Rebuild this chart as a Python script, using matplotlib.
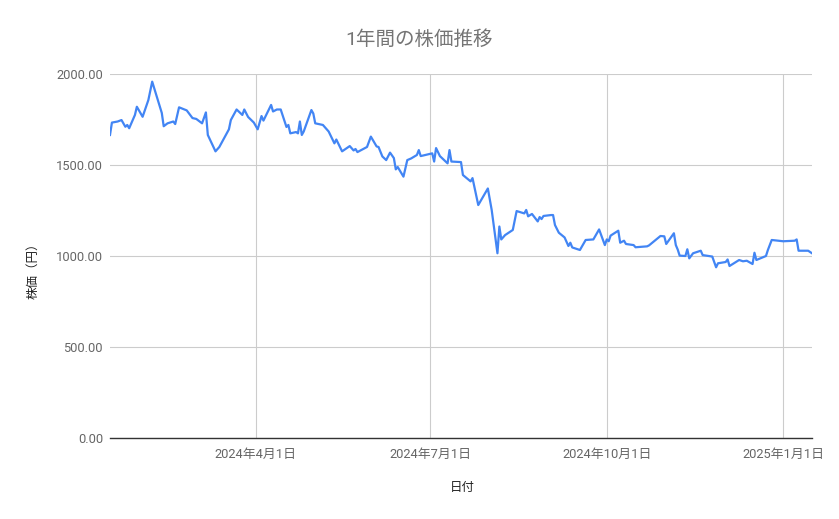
import matplotlib
matplotlib.use("Agg")
import matplotlib.pyplot as plt
import matplotlib.dates as mdates
import pandas as pd
from matplotlib.ticker import FuncFormatter, FixedLocator

plt.rcParams['font.family'] = ['Roboto', 'Noto Sans CJK JP', 'DejaVu Sans']

title = "1年間の株価推移"
x_label = "日付"
y_label = "株価（円）"

dates = [
    "2024-01-16", "2024-01-17", "2024-01-20", "2024-01-22", "2024-01-24", "2024-01-25",
    "2024-01-26", "2024-01-29", "2024-01-30", "2024-02-02", "2024-02-05", "2024-02-07",
    "2024-02-12", "2024-02-13", "2024-02-15", "2024-02-18", "2024-02-19", "2024-02-21",
    "2024-02-25", "2024-02-28", "2024-03-01", "2024-03-04", "2024-03-06", "2024-03-07",
    "2024-03-11", "2024-03-13", "2024-03-18", "2024-03-19", "2024-03-22", "2024-03-25",
    "2024-03-26", "2024-03-28", "2024-03-31", "2024-04-02", "2024-04-04", "2024-04-05",
    "2024-04-09", "2024-04-10", "2024-04-12", "2024-04-14", "2024-04-17", "2024-04-18",
    "2024-04-19", "2024-04-22", "2024-04-23", "2024-04-24", "2024-04-25", "2024-04-26",
    "2024-04-30", "2024-05-01", "2024-05-02", "2024-05-06", "2024-05-08", "2024-05-09",
    "2024-05-12", "2024-05-13", "2024-05-16", "2024-05-20", "2024-05-22", "2024-05-23",
    "2024-05-24", "2024-05-29", "2024-05-31", "2024-06-03", "2024-06-04", "2024-06-06",
    "2024-06-08", "2024-06-10", "2024-06-12", "2024-06-13", "2024-06-14", "2024-06-17",
    "2024-06-19", "2024-06-21", "2024-06-24", "2024-06-25", "2024-06-26", "2024-07-02",
    "2024-07-03", "2024-07-04", "2024-07-06", "2024-07-10", "2024-07-11", "2024-07-12",
    "2024-07-17", "2024-07-18", "2024-07-22", "2024-07-23", "2024-07-26", "2024-07-31",
    "2024-08-02", "2024-08-05", "2024-08-06", "2024-08-07", "2024-08-09", "2024-08-13",
    "2024-08-15", "2024-08-19", "2024-08-20", "2024-08-21", "2024-08-23", "2024-08-26",
    "2024-08-27", "2024-08-28", "2024-08-29", "2024-09-02", "2024-09-03", "2024-09-04",
    "2024-09-06", "2024-09-09", "2024-09-11", "2024-09-12", "2024-09-13", "2024-09-17",
    "2024-09-19", "2024-09-20", "2024-09-24", "2024-09-27", "2024-09-30", "2024-10-01",
    "2024-10-02", "2024-10-03", "2024-10-07", "2024-10-08", "2024-10-10", "2024-10-11",
    "2024-10-15", "2024-10-16", "2024-10-22", "2024-10-23", "2024-10-29", "2024-10-31",
    "2024-11-01", "2024-11-05", "2024-11-06", "2024-11-07", "2024-11-08", "2024-11-11",
    "2024-11-12", "2024-11-13", "2024-11-15", "2024-11-19", "2024-11-20", "2024-11-25",
    "2024-11-27", "2024-11-28", "2024-12-02", "2024-12-03", "2024-12-04", "2024-12-09",
    "2024-12-11", "2024-12-13", "2024-12-16", "2024-12-17", "2024-12-18", "2024-12-23",
    "2024-12-24", "2024-12-26", "2025-01-01", "2025-01-07", "2025-01-08", "2025-01-09",
    "2025-01-14", "2025-01-16",
]

prices = [
    1665, 1733, 1739, 1747, 1710, 1720,
    1702, 1775, 1820, 1765, 1857, 1958,
    1786, 1713, 1729, 1739, 1725, 1817,
    1800, 1758, 1753, 1729, 1789, 1665,
    1575, 1599, 1696, 1747, 1805, 1775,
    1805, 1764, 1733, 1696, 1769, 1744,
    1830, 1794, 1805, 1805, 1709, 1720,
    1674, 1681, 1674, 1739, 1665, 1684,
    1802, 1783, 1729, 1720, 1696, 1684,
    1619, 1640, 1575, 1604, 1580, 1588,
    1571, 1599, 1656, 1602, 1599, 1547,
    1527, 1568, 1538, 1476, 1489, 1436,
    1527, 1536, 1555, 1582, 1549, 1564,
    1519, 1593, 1549, 1509, 1582, 1519,
    1516, 1445, 1410, 1428, 1280, 1371,
    1253, 1015, 1162, 1091, 1115, 1143,
    1247, 1234, 1253, 1218, 1231, 1190,
    1214, 1203, 1220, 1225, 1225, 1170,
    1128, 1102, 1055, 1073, 1047, 1033,
    1070, 1088, 1091, 1146, 1060, 1091,
    1081, 1112, 1139, 1073, 1084, 1066,
    1060, 1048, 1053, 1058, 1110, 1108,
    1066, 1125, 1060, 1035, 1002, 1000,
    1037, 987, 1015, 1029, 1005, 997,
    938, 960, 967, 981, 945, 978,
    971, 974, 956, 1018, 978, 1000,
    1033, 1088, 1081, 1084, 1091, 1029,
    1029, 1015,
]

x_ticks = ["2024-04-01", "2024-07-01", "2024-10-01", "2025-01-01"]
y_ticks = [0, 500, 1000, 1500, 2000]

dts = pd.to_datetime(dates)
W, H = 839, 519
fig = plt.figure(figsize=(W / 100, H / 100), dpi=100)
ax = fig.add_axes([110 / W, 1 - 438 / H, (812 - 110) / W, (438 - 74) / H])

ax.plot(dts, prices, color="#4285F4", linewidth=1.6, solid_joinstyle="round")

ax.set_ylim(0, 2000)
ax.set_xlim(dts[0], dts[-1])
ax.yaxis.set_major_locator(FixedLocator(y_ticks))
ax.yaxis.set_major_formatter(FuncFormatter(lambda v, p: f"{v:.2f}"))
xt = pd.to_datetime(x_ticks)
ax.xaxis.set_major_locator(FixedLocator(mdates.date2num(xt)))
ax.xaxis.set_major_formatter(FuncFormatter(
    lambda v, p: (lambda d: f"{d.year}年{d.month}月{d.day}日")(mdates.num2date(v))))

ax.grid(True, color="#cccccc", linewidth=0.8)
ax.set_axisbelow(True)
for s in ["top", "right", "left"]:
    ax.spines[s].set_visible(False)
ax.spines["bottom"].set_color("#333333")
ax.spines["bottom"].set_linewidth(1.0)
ax.spines["bottom"].set_zorder(3)
ax.tick_params(axis="both", length=0, labelsize=9.3, labelcolor="#666666")
ax.tick_params(axis="y", pad=5)
ax.tick_params(axis="x", pad=7)

fig.text(0.5, 1 - 40 / H, title, ha="center", va="center",
         fontsize=14, color="#757575")
fig.text(462 / W, 1 - 487 / H, x_label, ha="center", va="center", fontsize=9, color="#222222")
fig.text(33 / W, 1 - 268 / H, y_label, ha="center", va="center", fontsize=9,
         color="#222222", rotation=90)

fig.savefig("out.png", dpi=100)
